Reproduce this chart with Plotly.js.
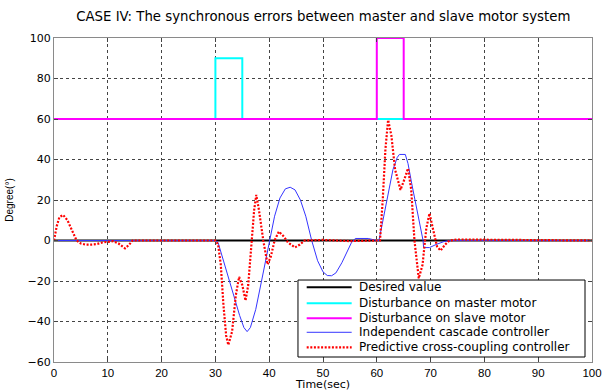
<!DOCTYPE html>
<html>
<head>
<meta charset="utf-8">
<script src="https://cdn.plot.ly/plotly-3.0.1.min.js"></script>
<style>html,body{margin:0;padding:0;background:#fff;}#chart{width:602px;height:391px;}</style>
</head>
<body>
<div id="chart"></div>
<script>
// Desired value
const tDesired = [0, 100];
const vDesired = [0, 0];
// Disturbance on master motor
const tMaster = [0, 30, 30, 35, 35, 100];
const vMaster = [60, 60, 90, 90, 60, 60];
// Disturbance on slave motor
const tSlave = [0, 60, 60, 65, 65, 100];
const vSlave = [60, 60, 100, 100, 60, 60];
// Independent cascade controller
const tIndep = [0, 30, 30.5, 31.5, 33, 34.5, 35.3, 35.9, 36.5, 37.5, 38.5, 39.3, 40, 41, 42, 43, 43.9, 44.8, 45.8, 46.8, 47.9, 49, 50, 50.8, 51.6, 52.4, 53.5, 54.5, 55.3, 56, 58.4, 60, 60.4, 61, 62, 63, 63.8, 64.2, 65.3, 65.8, 66.5, 67.3, 68, 68.6, 68.7, 69.8, 71, 72.5, 73.5, 100];
const vIndep = [0, 0, -1, -10, -24, -37, -43, -45, -43, -34, -21, -10, 0, 12, 21, 25.5, 26.3, 25, 20, 12, 0, -10, -15.5, -17.3, -17.4, -16, -11, -5, -1, 1, 1, 0, 0, 8, 22, 35, 41, 42.5, 42.5, 38, 28, 18, 8, 0, -3.5, -3.5, -2, -0.5, 0, 0];
// Predictive cross-coupling controller
const tPred = [0, 0.5, 1, 1.7, 2.5, 3.3, 4.2, 5, 5.8, 7, 8, 9, 10, 11, 12, 13.2, 14, 14.6, 16, 30, 30.5, 31, 31.5, 32, 32.4, 33.1, 33.8, 34.4, 35, 35.6, 36.1, 36.7, 37.2, 37.6, 38.1, 38.9, 39.7, 40.3, 41, 41.8, 42.7, 43.5, 44.8, 45.7, 46.6, 50, 55, 60, 60.6, 61.1, 61.6, 62.1, 62.7, 63.4, 64.4, 65.1, 65.8, 66.4, 67, 67.8, 68.5, 69.2, 69.8, 70.5, 71.2, 71.85, 72.7, 73.5, 75, 100];
const vPred = [0, 7, 11.5, 12.6, 10, 5, 0, -1.5, -2, -2, -1.7, -1, -0.8, -0.3, -1.5, -3.9, -2, 0, 0, 0, -2, -12, -32, -47, -51.6, -45, -27, -18, -22, -29.7, -22, 0, 15, 22.5, 15, 0, -11.8, -8, 0, 4.4, 2, -1, -3.4, -2, 0, 0.3, -0.3, 0, 0, 20, 45, 59.5, 52, 35, 25, 30, 35.6, 25, 0, -18.7, -12, 6, 13.4, 5, -3, -5, -2, 0, 0.5, 0];

const traces = [
  {x: tDesired, y: vDesired, name: 'Desired value', mode: 'lines', line: {color: '#000000', width: 2}},
  {x: tMaster, y: vMaster, name: 'Disturbance on master motor', mode: 'lines', line: {color: '#00ffff', width: 2}},
  {x: tSlave, y: vSlave, name: 'Disturbance on slave motor', mode: 'lines', line: {color: '#ff00ff', width: 2}},
  {x: tIndep, y: vIndep, name: 'Independent cascade controller', mode: 'lines', line: {color: '#3535ff', width: 1}},
  {x: tPred, y: vPred, name: 'Predictive cross-coupling controller', mode: 'lines', line: {color: '#ff0000', width: 2.2, dash: '2px,1.6px'}}
];

const FONT = 'DejaVu Sans, Liberation Sans, Arial, sans-serif';
const ARIAL = 'Liberation Sans, Arial, sans-serif';

// Compact legend box (MATLAB-style row spacing), built from the traces' names and line styles
const legendBox = {x0: 0.4535, x1: 0.987, y0: 0.0154, y1: 0.253};
const legendRows = [0.2306, 0.1812, 0.1349, 0.0917, 0.0454];
const legendSample = {x0: 0.4697, x1: 0.5533, text: 0.5626};
const shapes = [{type: 'rect', xref: 'paper', yref: 'paper', x0: legendBox.x0, x1: legendBox.x1, y0: legendBox.y0, y1: legendBox.y1,
  fillcolor: '#ffffff', line: {color: '#000000', width: 1}, layer: 'above'}];
const annotations = [];
traces.forEach((tr, i) => {
  shapes.push({type: 'line', xref: 'paper', yref: 'paper', x0: legendSample.x0, x1: legendSample.x1, y0: legendRows[i], y1: legendRows[i],
    line: {color: tr.line.color, width: tr.line.width, dash: tr.line.dash || 'solid'}, layer: 'above'});
  annotations.push({xref: 'paper', yref: 'paper', x: legendSample.text, y: legendRows[i], xanchor: 'left', yanchor: 'middle',
    text: tr.name, showarrow: false, font: {family: FONT, size: 12, color: '#000'}});
});

const axisCommon = {
  showgrid: true, gridcolor: '#444444', griddash: 'dot', gridwidth: 1,
  zeroline: false, showline: true, linecolor: '#8a8a8a', linewidth: 1, mirror: 'ticks',
  ticks: 'inside', ticklen: 4, tickcolor: '#444444',
  tickfont: {family: FONT, size: 11, color: '#000'}
};

const layout = {
  width: 602, height: 391,
  margin: {l: 54, r: 10, t: 38, b: 29},
  paper_bgcolor: '#ffffff', plot_bgcolor: '#ffffff',
  font: {family: FONT, size: 11, color: '#000'},
  title: {text: 'CASE IV: The synchronous errors between master and slave motor system', x: 0.537, xanchor: 'center', y: 0.958, yanchor: 'middle', font: {size: 13.3, color: '#000'}},
  xaxis: Object.assign({}, axisCommon, {range: [0, 100], tickvals: [0,10,20,30,40,50,60,70,80,90,100], ticklabelstandoff: 0, ticklabeloverflow: 'allow',
    tickfont: {family: ARIAL, size: 11.5, color: '#000'},
    title: {text: 'Time(sec)', standoff: 1, font: {size: 11}}}),
  yaxis: Object.assign({}, axisCommon, {range: [-60, 100], tickvals: [-60,-40,-20,0,20,40,60,80,100],
    title: {text: 'Degree(°)', standoff: 12, font: {family: ARIAL, size: 10}}}),
  showlegend: false,
  shapes: shapes,
  annotations: annotations
};

Plotly.newPlot('chart', traces, layout, {displayModeBar: false, staticPlot: true});
</script>
</body>
</html>
